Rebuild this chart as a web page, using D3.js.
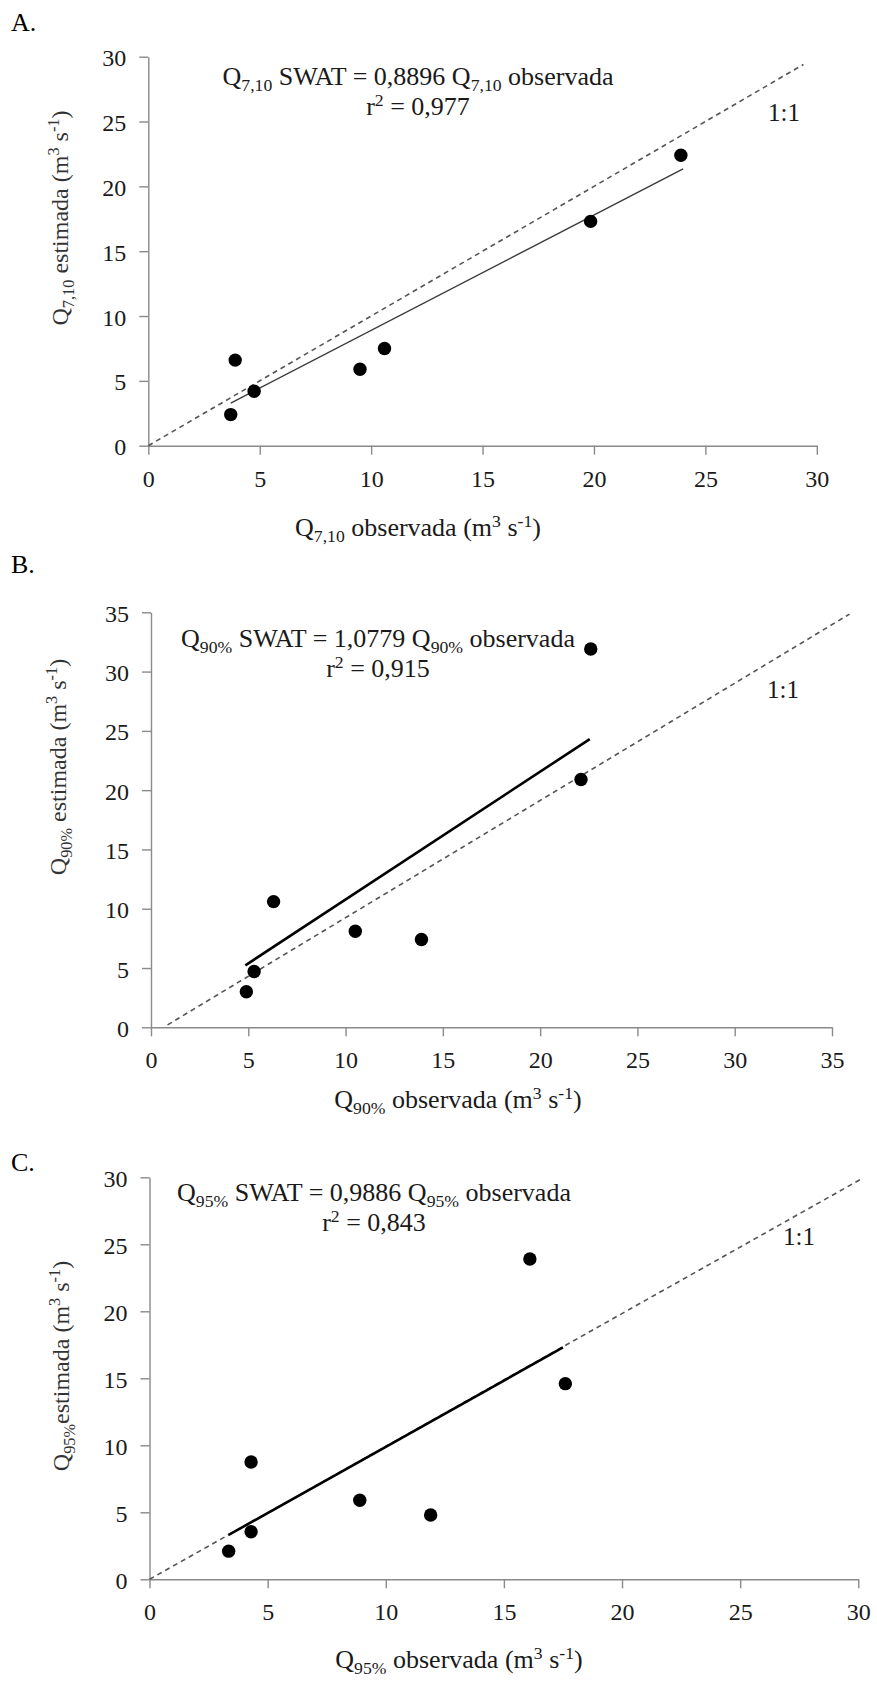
<!DOCTYPE html>
<html>
<head>
<meta charset="utf-8">
<script src="https://d3js.org/d3.v7.min.js"></script>
</head>
<body style="margin:0; background:#fff">
<script>
// panel A - Q7,10
var obsA = [3.7, 3.9, 4.75, 9.5, 10.6, 19.85, 23.9]
var estA = [2.4, 6.6, 4.2, 5.9, 7.5, 17.3, 22.4]
var ticksA = [0, 5, 10, 15, 20, 25, 30]
var fitA = [3.7, 24]          // observed range of the fitted line
var oneA = [[0, 0], [29.4, 29.4]]

// panel B - Q90%
var obsB = [4.9, 5.3, 6.3, 10.5, 13.9, 22.1, 22.6]
var estB = [3.0, 4.7, 10.6, 8.1, 7.4, 20.9, 31.9]
var ticksB = [0, 5, 10, 15, 20, 25, 30, 35]
var fitB = [4.85, 22.55]
var oneB = [[0.85, 0.2], [35.9, 34.85]]

// panel C - Q95%
var obsC = [3.35, 4.3, 4.3, 8.9, 11.9, 16.1, 17.6]
var estC = [2.1, 3.55, 8.75, 5.9, 4.8, 23.9, 14.6]
var ticksC = [0, 5, 10, 15, 20, 25, 30]
var fitC = [3.35, 17.5]
var oneC = [[0, 0], [30.15, 29.9]]

var serif = '"Liberation Serif"'
var w = 877, h = 1683
var svg = d3.select('body').append('svg').attr('width', w).attr('height', h)
svg.append('rect').attr('width', w).attr('height', h).attr('fill', '#fff')

// text with sub / superscripts; parts = [[text, 'sub'|'sup'|null], ...]
function rich(sel, parts, size) {
    var off = 0
    parts.forEach(function (p) {
        var target = p[1] == 'sub' ? size * 0.24 : p[1] == 'sup' ? -size * 0.36 : 0
        var t = sel.append('tspan').text(p[0]).attr('dy', target - off)
        if (p[1]) t.attr('font-size', size * 0.68)
        off = target
    })
}

function panel(cfg) {
    var g = svg.append('g')
    var x = d3.scaleLinear().domain([0, d3.max(cfg.ticks)]).range([cfg.left, cfg.right])
    var y = d3.scaleLinear().domain([0, d3.max(cfg.ticks)]).range([cfg.bottom, cfg.top])

    var xa = g.append('g').attr('transform', 'translate(0,' + cfg.bottom + ')')
        .call(d3.axisBottom(x).tickValues(cfg.ticks).tickSize(9).tickSizeOuter(0).tickPadding(15))
    var ya = g.append('g').attr('transform', 'translate(' + cfg.left + ',0)')
        .call(d3.axisLeft(y).tickValues(cfg.ticks).tickSize(9).tickSizeOuter(0).tickPadding(13))
    ;[xa, ya].forEach(function (a) {
        a.selectAll('path, line').attr('stroke', '#8a8a8a').attr('stroke-width', 1.4)
        a.selectAll('text').attr('font-size', 24).attr('fill', '#1a1a1a')
    })
    ya.selectAll('text').attr('dy', '0.38em')

    // 1:1 line
    g.append('line')
        .attr('x1', x(cfg.one[0][0])).attr('y1', y(cfg.one[0][1]))
        .attr('x2', x(cfg.one[1][0])).attr('y2', y(cfg.one[1][1]))
        .attr('stroke', '#555').attr('stroke-width', 1.6).attr('stroke-dasharray', '5,4')

    // fitted line through origin
    g.append('line')
        .attr('x1', x(cfg.fit[0])).attr('y1', y(cfg.fit[0] * cfg.slope))
        .attr('x2', x(cfg.fit[1])).attr('y2', y(cfg.fit[1] * cfg.slope))
        .attr('stroke', cfg.fitColor).attr('stroke-width', cfg.fitWidth)

    g.selectAll('circle.pt').data(cfg.obs).enter().append('circle')
        .attr('cx', function (d) { return x(d) })
        .attr('cy', function (d, i) { return y(cfg.est[i]) })
        .attr('r', 6.7).attr('fill', '#000')

    // panel letter
    g.append('text').attr('x', 11).attr('y', cfg.letterY).attr('font-size', 26)
        .attr('fill', '#000').text(cfg.letter)

    // equation + r2
    rich(g.append('text').attr('x', cfg.eqX).attr('y', cfg.eqY).attr('text-anchor', 'middle')
        .attr('font-size', 26).attr('fill', '#1a1a1a'), cfg.eq, 26)
    rich(g.append('text').attr('x', cfg.eqX).attr('y', cfg.eqY + 30).attr('text-anchor', 'middle')
        .attr('font-size', 26).attr('fill', '#1a1a1a'), [['r', null], ['2', 'sup'], [' = ' + cfg.r2, null]], 26)

    g.append('text').attr('x', cfg.oneX).attr('y', cfg.oneY).attr('font-size', 25)
        .attr('fill', '#1a1a1a').text('1:1')

    // axis titles
    rich(g.append('text').attr('x', cfg.xlabX).attr('y', cfg.xlabY).attr('text-anchor', 'middle')
        .attr('font-size', 26).attr('fill', '#1a1a1a'), cfg.xlab, 26)
    rich(g.append('text').attr('transform', 'translate(' + cfg.ylabX + ',' + cfg.ylabY + ') rotate(-90)')
        .attr('text-anchor', 'middle').attr('font-size', 24).attr('fill', '#333'), cfg.ylab, 24)
}

var unit = [[' (m', null], ['3', 'sup'], [' s', null], ['-1', 'sup'], [')', null]]

panel({
    letter: 'A.', letterY: 31, ticks: ticksA, obs: obsA, est: estA, fit: fitA, one: oneA,
    slope: 0.8896, r2: '0,977', fitColor: '#3a3a3a', fitWidth: 1.4,
    left: 148.3, right: 816.8, top: 56.7, bottom: 445.7,
    eqX: 418, eqY: 85, oneX: 768, oneY: 121,
    eq: [['Q', null], ['7,10', 'sub'], [' SWAT = 0,8896 Q', null], ['7,10', 'sub'], [' observada', null]],
    xlabX: 418, xlabY: 536, xlab: [['Q', null], ['7,10', 'sub'], [' observada', null]].concat(unit),
    ylabX: 68, ylabY: 218, ylab: [['Q', null], ['7,10', 'sub'], [' estimada', null]].concat(unit)
})

panel({
    letter: 'B.', letterY: 573, ticks: ticksB, obs: obsB, est: estB, fit: fitB, one: oneB,
    slope: 1.0779, r2: '0,915', fitColor: '#000', fitWidth: 2.6,
    left: 151, right: 832, top: 612.3, bottom: 1027.3,
    eqX: 378, eqY: 647, oneX: 767, oneY: 698,
    eq: [['Q', null], ['90%', 'sub'], [' SWAT = 1,0779 Q', null], ['90%', 'sub'], [' observada', null]],
    xlabX: 458, xlabY: 1108, xlab: [['Q', null], ['90%', 'sub'], [' observada', null]].concat(unit),
    ylabX: 66, ylabY: 767, ylab: [['Q', null], ['90%', 'sub'], [' estimada', null]].concat(unit)
})

panel({
    letter: 'C.', letterY: 1171, ticks: ticksC, obs: obsC, est: estC, fit: fitC, one: oneC,
    slope: 0.9886, r2: '0,843', fitColor: '#000', fitWidth: 2.6,
    left: 149.5, right: 858.3, top: 1177.3, bottom: 1579.3,
    eqX: 374, eqY: 1201, oneX: 783, oneY: 1245,
    eq: [['Q', null], ['95%', 'sub'], [' SWAT = 0,9886 Q', null], ['95%', 'sub'], [' observada', null]],
    xlabX: 459, xlabY: 1668, xlab: [['Q', null], ['95%', 'sub'], [' observada', null]].concat(unit),
    ylabX: 69, ylabY: 1366, ylab: [['Q', null], ['95%', 'sub'], ['estimada', null]].concat(unit)
})

// all text in the serif face (axis groups come with sans-serif by default)
svg.selectAll('g').attr('font-family', null)
svg.selectAll('text').style('font-family', serif)
</script>
</body>
</html>
